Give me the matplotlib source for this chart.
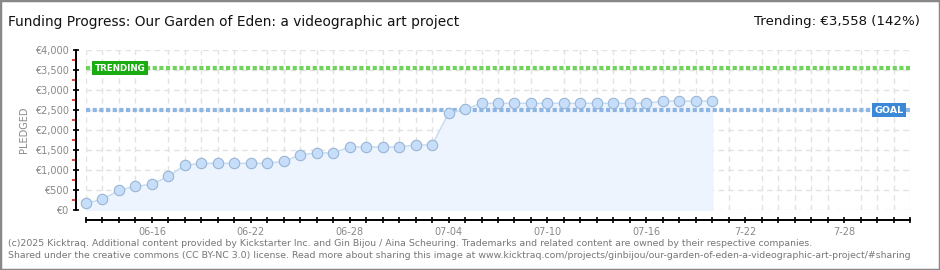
import matplotlib
matplotlib.use("Agg")
import matplotlib.pyplot as plt
from matplotlib.patches import Rectangle
from matplotlib.ticker import MultipleLocator, FuncFormatter

# daily pledged totals, 06-12 .. 07-20
pledged = [170, 270, 495, 595, 645, 845, 1120, 1170, 1170, 1170,
           1170, 1170, 1220, 1380, 1430, 1430, 1580, 1580, 1580, 1580,
           1630, 1630, 2430, 2525, 2675, 2675, 2675, 2675, 2675, 2675,
           2675, 2675, 2675, 2675, 2675, 2730, 2730, 2730, 2730]
days = list(range(len(pledged)))
n_days = 50  # 06-12 .. 08-01
tick_days = [4, 10, 16, 22, 28, 34, 40, 46]
tick_labels = ["06-16", "06-22", "06-28", "07-04", "07-10", "07-16", "7-22", "7-28"]
goal = 2500
trending = 3558
title = "Funding Progress: Our Garden of Eden: a videographic art project"
trend_text = "Trending: €3,558 (142%)"
footer = ["(c)2025 Kicktraq. Additional content provided by Kickstarter Inc. and Gin Bijou / Aina Scheuring. "
          "Trademarks and related content are owned by their respective companies.",
          "Shared under the creative commons (CC BY-NC 3.0) license. Read more about sharing this image at "
          "www.kicktraq.com/projects/ginbijou/our-garden-of-eden-a-videographic-art-project/#sharing"]

W, H = 940, 270
fig = plt.figure(figsize=(W / 100, H / 100), dpi=100)
ax = fig.add_axes([86 / W, 1 - 210 / H, (910 - 86) / W, (210 - 50.4) / H])

ax.fill_between(days, pledged, 0, color="#edf4fd", zorder=1)
ax.plot(days, pledged, color="#c2dbf4", lw=1, marker="o", ms=7.5,
        mfc="#c6defa", mec="#99b5d5", mew=0.8, zorder=4, clip_on=False)

ax.axhline(goal, color="#8fb5e2", lw=3, ls=(0, (1, 0.6)), zorder=3)
ax.axhline(trending, color="#6fd35c", lw=3, ls=(0, (1, 0.6)), zorder=3)

ax.text(0.55, trending, "TRENDING", color="white", fontsize=6.3, fontweight="bold",
        va="center", ha="left", zorder=5,
        bbox=dict(boxstyle="square,pad=0.3", fc="#1aac10", ec="none"))
ax.text(49.6, goal, "GOAL", color="white", fontsize=6.8, fontweight="bold",
        va="center", ha="right", zorder=5,
        bbox=dict(boxstyle="square,pad=0.25", fc="#3b88d6", ec="none"))

ax.set_xlim(0, n_days)
ax.set_ylim(0, 4000)

ax.set_xticks(tick_days, tick_labels, minor=False)
ax.set_xticks(range(n_days + 1), minor=True)
ax.yaxis.set_major_locator(MultipleLocator(500))
ax.yaxis.set_minor_locator(MultipleLocator(250))
ax.yaxis.set_major_formatter(FuncFormatter(lambda v, p: "€{:,.0f}".format(v)))

ax.grid(True, which="major", axis="y", color="#e2e2e2", lw=1, ls=(0, (4, 3)))
ax.grid(True, which="minor", axis="x", color="#e2e2e2", lw=1, ls=(0, (4, 3)))
ax.set_axisbelow(True)

for s in ["top", "right"]:
    ax.spines[s].set_visible(False)
ax.spines["left"].set_position(("outward", 7))
ax.spines["bottom"].set_position(("outward", 7))
ax.spines["left"].set_linewidth(1.4)
ax.spines["bottom"].set_linewidth(1.4)

ax.tick_params(axis="x", which="both", direction="inout", length=5, width=1.2,
               colors="black", labelcolor="#888888", labelsize=7, pad=3)
ax.tick_params(axis="y", which="major", direction="inout", length=5, width=1.2,
               labelcolor="#888888", labelsize=7, pad=3)
ax.tick_params(axis="y", which="minor", direction="out", length=3, width=1.2,
               color="#e02020")
ax.set_ylabel("PLEDGED", color="#888888", fontsize=7, labelpad=4)

fig.text(8 / W, 1 - 22 / H, title, fontsize=9.9, va="center", ha="left",
         color="#111111")
fig.text(920 / W, 1 - 22 / H, trend_text, fontsize=9.6, va="center", ha="right",
         color="#111111")
fig.text(8 / W, 1 - 243 / H, footer[0], fontsize=6.75, color="#777777", va="center")
fig.text(8 / W, 1 - 256 / H, footer[1], fontsize=6.75, color="#777777", va="center")

fig.patches.append(Rectangle((0, 0), 1, 1, transform=fig.transFigure, fill=False,
                             ec="#888888", lw=2.5))

fig.savefig("out.png", dpi=100)
